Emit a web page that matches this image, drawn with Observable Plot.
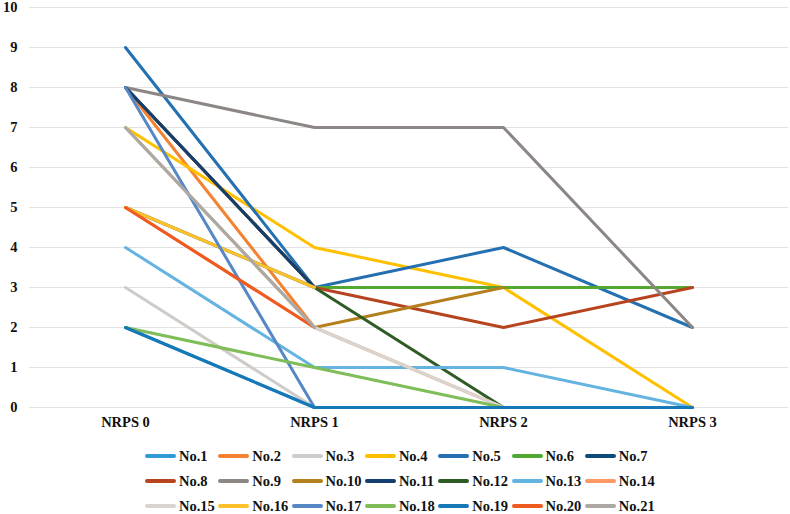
<!DOCTYPE html>
<html>
<head>
<meta charset="utf-8">
<script src="https://cdn.jsdelivr.net/npm/d3@7"></script>
<script src="https://cdn.jsdelivr.net/npm/@observablehq/plot@0.6"></script>
<style>
  html, body { margin: 0; padding: 0; background: #fff; }
  #wrap { position: relative; width: 790px; height: 514px; font-family: "Liberation Serif", "Times New Roman", serif; font-weight: bold; }
  #legend .item { position: absolute; display: flex; align-items: center; font-size: 14.5px; color: #111; white-space: nowrap; }
  #legend .sw { width: 31px; height: 3.5px; margin-right: 3px; border-radius: 2px; }
</style>
</head>
<body>
<div id="wrap"><div id="chart"></div><div id="legend"></div></div>
<script>
const stages = ["NRPS 0", "NRPS 1", "NRPS 2", "NRPS 3"];
const yTicks = [0, 1, 2, 3, 4, 5, 6, 7, 8, 9, 10];
const names = ["No.1","No.2","No.3","No.4","No.5","No.6","No.7","No.8","No.9","No.10","No.11",
               "No.12","No.13","No.14","No.15","No.16","No.17","No.18","No.19","No.20","No.21"];
const colors = ["#2F9BD7","#F58232","#CFCBC8","#FFC000","#2470B0","#54A831","#0D4B78",
                "#B6441F","#8C8785","#B4801E","#133F6E","#2F5B24","#65B3E0","#F99A66",
                "#D8D4D0","#FFC12B","#5588C4","#7FBD58","#1778B8","#EE5A1F","#ADA8A4"];
// scores at NRPS 0..3 for each case (null = no value)
const values = [
  [2, 0, 0, 0],          // No.1
  [8, 2, null, null],    // No.2
  [3, 0, 0, 0],          // No.3
  [7, 4, 3, 0],          // No.4
  [9, 3, 4, 2],          // No.5
  [8, 3, 3, 3],          // No.6
  [8, 3, null, null],    // No.7
  [8, 3, 2, 3],          // No.8
  [8, 7, 7, 2],          // No.9
  [7, 2, 3, null],       // No.10
  [8, 3, null, null],    // No.11
  [5, 3, 0, 0],          // No.12
  [4, 1, 1, 0],          // No.13
  [5, 2, 0, 0],          // No.14
  [7, 2, 0, 0],          // No.15
  [5, 3, null, null],    // No.16
  [8, 0, 0, 0],          // No.17
  [2, 1, 0, 0],          // No.18
  [2, 0, 0, 0],          // No.19
  [5, 2, null, null],    // No.20
  [7, 2, null, null]     // No.21
];

const data = [];
names.forEach((n, i) => stages.forEach((s, j) => data.push({series: n, stage: s, value: values[i][j]})));

const font = '"Liberation Serif", "Times New Roman", serif';
const chart = Plot.plot({
  width: 790,
  height: 440,
  marginTop: 7,
  marginBottom: 33,
  marginLeft: 29,
  marginRight: 2,
  style: {fontFamily: font, fontWeight: "bold", fontSize: "14.5px", color: "#111", background: "#fff"},
  x: {type: "point", domain: stages, padding: 0.5, label: null},
  y: {domain: [0, 10], label: null},
  color: {domain: names, range: colors},
  marks: [
    Plot.ruleY(yTicks, {stroke: "#e2e2e2", strokeWidth: 1}),
    Plot.axisY(yTicks, {tickSize: 0, tickPadding: 12, label: null, fontWeight: "bold", fontSize: 14.5}),
    Plot.axisX({tickSize: 0, tickPadding: 9, label: null, fontWeight: "bold", fontSize: 14.5}),
    Plot.lineY(data, {x: "stage", y: "value", z: "series", stroke: "series", strokeWidth: 3, curve: "linear"})
  ]
});
document.getElementById("chart").appendChild(chart);

const legend = document.getElementById("legend");
const rowY = [456, 481, 506];
names.forEach((n, i) => {
  const r = Math.floor(i / 7), c = i % 7;
  const item = document.createElement("div");
  item.className = "item";
  item.style.left = (145 + c * 73.3) + "px";
  item.style.top = (rowY[r] - 9) + "px";
  item.style.height = "18px";
  const sw = document.createElement("div");
  sw.className = "sw";
  sw.style.background = colors[i];
  const t = document.createElement("span");
  t.textContent = n;
  item.appendChild(sw);
  item.appendChild(t);
  legend.appendChild(item);
});
</script>
</body>
</html>
